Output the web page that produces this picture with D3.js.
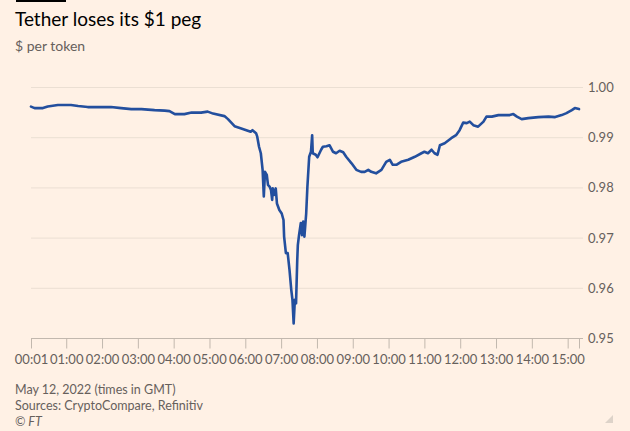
<!DOCTYPE html>
<html>
<head>
<meta charset="utf-8">
<script src="https://cdn.jsdelivr.net/npm/d3@7"></script>
<style>
    html, body { margin: 0; padding: 0; background: #fff1e5; }
    svg { display: block; font-family: Lato, "Open Sans", sans-serif; }
    .tick-label { fill: #66605c; font-size: 13px; }
</style>
</head>
<body>
<svg id="tether-chart" width="630" height="431"></svg>
<script>
// USDT price on 12 May 2022
var times = [
    // quiet morning
    '00:01', '00:07', '00:21', '00:29', '00:46', '01:08', '01:20', '01:36', '01:53', '02:15',
    '02:32', '02:49', '03:06', '03:28', '03:45', '03:53', '04:02', '04:18', '04:30', '04:46',
    '04:57', '05:06', '05:25', '05:31', '05:42',
    // the crash
    '05:52', '06:09', '06:12', '06:18', '06:20', '06:23', '06:26', '06:29', '06:31', '06:33',
    '06:36', '06:38', '06:41', '06:43', '06:45', '06:46', '06:48', '06:51', '06:53', '06:57',
    '07:01', '07:04', '07:05', '07:08', '07:11', '07:14', '07:17', '07:19', '07:21', '07:23',
    '07:25', '07:27', '07:28', '07:30', '07:33', '07:35', '07:37', '07:39', '07:42', '07:44',
    '07:47', '07:50', '07:52', '07:53', '07:58', '08:01',
    // recovery
    '08:07', '08:10', '08:16', '08:21', '08:27', '08:32', '08:38', '08:44', '08:49', '08:58',
    '09:06', '09:14', '09:20', '09:26', '09:31', '09:39', '09:48', '09:56', '10:02', '10:07',
    '10:13', '10:21', '10:33', '10:44', '10:55', '11:00', '11:06', '11:12', '11:17', '11:22',
    '11:26', '11:34', '11:45', '11:53', '11:59',
    '12:05', '12:11', '12:16', '12:22', '12:30', '12:39', '12:44', '12:53', '13:04', '13:15',
    '13:23', '13:29', '13:35', '13:43', '13:54', '14:11', '14:28', '14:39', '14:50', '14:58',
    '15:07', '15:12', '15:19'
];
var prices = [
    0.9962, 0.9959, 0.9959, 0.9962, 0.9965, 0.9965, 0.9963, 0.9961, 0.9961, 0.9961,
    0.9959, 0.9957, 0.9957, 0.9955, 0.9954, 0.9953, 0.9947, 0.9947, 0.9950, 0.9950,
    0.9952, 0.9948, 0.9943, 0.9937, 0.9923,

    0.9919, 0.9912, 0.9915, 0.9909, 0.9902, 0.9882, 0.9869, 0.9836, 0.9783, 0.9832,
    0.9826, 0.9806, 0.9802, 0.9796, 0.9776, 0.9799, 0.9786, 0.9799, 0.9769, 0.9756,
    0.9749, 0.9736, 0.9703, 0.9670, 0.9670, 0.9637, 0.9597, 0.9577, 0.9530, 0.9577,
    0.9570, 0.9656, 0.9686, 0.9706, 0.9730, 0.9706, 0.9733, 0.9703, 0.9749, 0.9802,
    0.9862, 0.9872, 0.9905, 0.9869, 0.9866, 0.9861,

    0.9876, 0.9882, 0.9883, 0.9885, 0.9872, 0.9869, 0.9874, 0.9871, 0.9862, 0.9849,
    0.9836, 0.9832, 0.9832, 0.9836, 0.9832, 0.9829, 0.9836, 0.9852, 0.9856, 0.9846,
    0.9846, 0.9852, 0.9856, 0.9862, 0.9869, 0.9872, 0.9869, 0.9876, 0.9869, 0.9866,
    0.9885, 0.9889, 0.9899, 0.9905, 0.9915,
    0.9930, 0.9929, 0.9932, 0.9925, 0.9922, 0.9932, 0.9942, 0.9942, 0.9945, 0.9945,
    0.9945, 0.9947, 0.9942, 0.9937, 0.9939, 0.9941, 0.9942, 0.9941, 0.9945, 0.9949,
    0.9955, 0.9959, 0.9957
];
var hourTicks = ['00:01', '01:00', '02:00', '03:00', '04:00', '05:00', '06:00', '07:00',
    '08:00', '09:00', '10:00', '11:00', '12:00', '13:00', '14:00', '15:00', '15:19'];
var priceTicks = [0.95, 0.96, 0.97, 0.98, 0.99, 1.00];

var parseTime = d3.timeParse('%H:%M');
var data = times.map(function(t, i) {
    return { time: parseTime(t), price: prices[i] };
});

var svg = d3.select('#tether-chart');

var x = d3.scaleTime()
    .domain([parseTime(times[0]), parseTime(times[times.length - 1])])
    .range([31, 579]);

var y = d3.scaleLinear()
    .domain([0.95, 1.00])
    .range([338.5, 87.5]);

var gridRight = 583;

// header
svg.append('rect')
    .attr('x', 16).attr('y', 0)
    .attr('width', 50).attr('height', 2)
    .attr('fill', '#000');

svg.append('text')
    .attr('x', 15).attr('y', 26)
    .style('font-size', '19px')
    .style('fill', '#000')
    .text('Tether loses its $1 peg');

svg.append('text')
    .attr('x', 15).attr('y', 51)
    .style('font-size', '14px')
    .style('fill', '#66605c')
    .text('$ per token');

// horizontal gridlines with right hand labels
var grid = svg.append('g')
    .selectAll('g')
    .data(priceTicks)
    .enter()
    .append('g')
    .attr('transform', function(d) { return 'translate(0,' + y(d) + ')'; });

grid.append('line')
    .attr('x1', x.range()[0])
    .attr('x2', gridRight)
    .attr('stroke', function(d) { return d === 0.95 ? '#c2b8ae' : '#ebdfd3'; })
    .attr('stroke-width', 1);

grid.append('text')
    .attr('class', 'tick-label')
    .attr('x', 588)
    .attr('dy', '0.35em')
    .text(d3.format('.2f'));

// bottom axis
var xAxis = d3.axisBottom(x)
    .tickValues(hourTicks.map(parseTime))
    .tickSize(10)
    .tickSizeOuter(0)
    .tickPadding(6)
    .tickFormat(function(d, i) {
        return i === hourTicks.length - 1 ? '' : d3.timeFormat('%H:%M')(d);
    });

svg.append('g')
    .attr('transform', 'translate(0,' + y(0.95) + ')')
    .call(xAxis)
    .call(function(g) {
        g.select('.domain').remove();
        g.selectAll('.tick line').attr('stroke', '#c2b8ae');
        g.selectAll('.tick text')
            .attr('class', 'tick-label')
            .attr('fill', null)
            .style('font-family', 'Lato, "Open Sans", sans-serif');
    });

// price line
var line = d3.line()
    .x(function(d) { return x(d.time); })
    .y(function(d) { return y(d.price); });

svg.append('path')
    .datum(data)
    .attr('d', line)
    .attr('fill', 'none')
    .attr('stroke', '#234f9e')
    .attr('stroke-width', 2.6)
    .attr('stroke-linejoin', 'round')
    .attr('stroke-linecap', 'round');

// footer
var notes = ['May 12, 2022 (times in GMT)', 'Sources: CryptoCompare, Refinitiv'];
svg.append('g')
    .selectAll('text')
    .data(notes)
    .enter()
    .append('text')
    .attr('x', 15)
    .attr('y', function(d, i) { return 394 + i * 16; })
    .style('font-size', '12.5px')
    .style('fill', '#66605c')
    .text(function(d) { return d; });

svg.append('text')
    .attr('x', 15).attr('y', 426)
    .style('font-size', '12.5px')
    .style('font-style', 'italic')
    .style('fill', '#66605c')
    .text('\u00a9 FT');

// little corner mark
svg.append('path')
    .attr('d', 'M613,415 L613,423 L605,423 Z')
    .attr('fill', '#ddd3c9');
</script>
</body>
</html>
